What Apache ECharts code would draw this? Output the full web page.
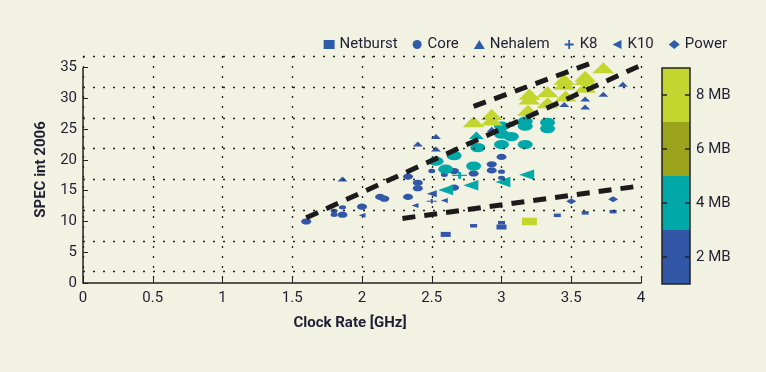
<!DOCTYPE html>
<html>
<head>
<meta charset="utf-8">
<script src="https://cdn.jsdelivr.net/npm/echarts@6/dist/echarts.min.js"></script>
<style>
html,body{margin:0;padding:0;background:#f2f2e3;}
#chart{width:766px;height:372px;}
</style>
</head>
<body>
<div id="chart"></div>
<script>
// ---- data: [clock GHz, SPECint2006, cache MB, marker size class] ----
const seriesNames = ['Netburst', 'Core', 'Nehalem', 'K8', 'K10', 'Power'];

const netburst = [
  [2.60, 7.9, 2, 2], [2.80, 9.3, 2, 1], [3.00, 9.8, 2, 1], [3.00, 9.1, 2, 2],
  [3.20, 10.0, 8, 3], [3.40, 11.0, 2, 1], [3.60, 11.4, 2, 1], [3.80, 11.6, 2, 1]
];
const core = [
  [1.60, 10.0, 2, 2], [1.80, 11.1, 2, 1], [1.80, 11.7, 2, 1], [1.86, 11.1, 2, 2],
  [1.86, 12.3, 2, 1], [2.00, 12.4, 2, 2], [2.13, 14.0, 2, 2], [2.16, 13.7, 2, 2],
  [2.33, 14.0, 2, 2], [2.33, 17.3, 2, 2], [2.40, 16.3, 2, 2], [2.40, 15.4, 2, 2],
  [2.50, 18.2, 2, 1], [2.59, 17.6, 2, 1], [2.66, 18.2, 2, 2], [2.66, 15.5, 2, 2],
  [2.80, 17.8, 2, 2], [2.93, 19.3, 2, 2], [2.93, 18.3, 2, 2], [3.00, 20.5, 2, 2],
  [3.00, 18.1, 2, 1], [3.00, 17.1, 2, 1],
  [2.53, 19.8, 4, 3], [2.60, 18.5, 4, 3], [2.66, 20.7, 4, 3], [2.80, 19.0, 4, 3],
  [2.83, 22.0, 4, 3], [3.00, 25.5, 4, 3], [3.00, 24.2, 4, 3], [3.00, 22.5, 4, 3],
  [3.07, 23.8, 4, 3], [3.17, 22.5, 4, 3], [3.17, 26.3, 4, 3], [3.17, 25.5, 4, 3],
  [3.33, 26.1, 4, 3], [3.33, 25.1, 4, 3]
];
const nehalem = [
  [1.86, 16.9, 2, 2], [2.40, 22.6, 2, 2], [2.53, 23.8, 2, 2], [2.53, 21.8, 2, 2],
  [2.93, 25.0, 2, 2], [3.06, 25.9, 2, 2], [3.45, 29.0, 2, 2], [3.60, 29.9, 2, 2],
  [3.60, 28.6, 2, 2], [3.73, 30.7, 2, 2], [3.87, 32.3, 2, 2],
  [2.82, 24.0, 4, 3],
  [2.80, 26.2, 8, 4], [2.93, 27.4, 8, 4], [2.93, 26.5, 8, 4], [3.19, 28.1, 8, 4],
  [3.20, 29.9, 8, 4], [3.20, 30.7, 8, 4], [3.33, 29.3, 8, 4], [3.33, 31.1, 8, 4],
  [3.45, 32.3, 8, 4], [3.45, 33.1, 8, 4], [3.46, 30.4, 8, 4], [3.60, 31.8, 8, 4],
  [3.60, 33.1, 8, 4], [3.60, 33.6, 8, 4], [3.73, 35.0, 8, 4]
];
const k8 = [
  [2.70, 17.5, 4, 3], [2.50, 13.3, 2, 2]
];
const k10 = [
  [2.00, 11.0, 2, 1], [2.38, 12.6, 2, 1], [2.50, 14.5, 2, 2], [2.59, 13.4, 2, 1],
  [2.60, 15.1, 4, 3], [2.78, 15.9, 4, 3], [3.01, 16.4, 4, 3], [3.18, 17.6, 4, 3]
];
const power = [
  [3.50, 13.3, 2, 2], [3.80, 13.6, 2, 2]
];

// dashed trend lines (endpoints)
const trendMain  = [[1.60, 10.6], [4.00, 35.4]];
const trendUpper = [[2.80, 28.7], [3.65, 35.8]];
const trendLower = [[2.29, 10.5], [4.00, 15.8]];

// axis ticks / gridlines
const xTicks = [0, 0.5, 1, 1.5, 2, 2.5, 3, 3.5, 4];
const yTicks = [0, 5, 10, 15, 20, 25, 30, 35];
const yGridLines = [1.85, 6.85, 11.85, 16.85, 21.85, 26.85, 31.85, 36.85];

// cache-size colour scale
const cacheLabels = ['8 MB', '6 MB', '4 MB', '2 MB'];
const cacheValues = [8, 6, 4, 2];
const cacheColors = ['#c3d62f', '#9aa31b', '#00a9a8', '#3357a7'];

// ---- rendering ----
const FONT = 'Roboto, "Liberation Sans", sans-serif';
const sizePx = [0, 7, 10, 15, 22];
function sizer(ratio) {
  return function (v) { const w = sizePx[v[3]]; return [w, w * ratio]; };
}
const PLUS = 'path://M0,4H10V6H0ZM4,0H6V10H4Z';
const LEFT_TRI = 'path://M0,5L10,0L10,10Z';

const shapes = [
  { data: netburst, symbol: 'rect', ratio: 0.5 },
  { data: core, symbol: 'circle', ratio: 0.62 },
  { data: nehalem, symbol: 'triangle', ratio: 0.5 },
  { data: k8, symbol: PLUS, ratio: 0.45 },
  { data: k10, symbol: LEFT_TRI, ratio: 0.7 },
  { data: power, symbol: 'diamond', ratio: 0.6 }
];

const series = shapes.map((s, i) => ({
  name: seriesNames[i],
  type: 'scatter',
  data: s.data,
  symbol: s.symbol,
  symbolSize: sizer(s.ratio),
  itemStyle: { color: '#2f5ca9', opacity: 1 },
  z: 3
}));

// gridlines + partial y axis line
series.push({
  type: 'scatter', data: [], silent: true, z: 1,
  markLine: {
    silent: true, symbol: 'none', animation: false,
    label: { show: false },
    lineStyle: { color: '#222', type: [2, 8], width: 1.3 },
    data: yGridLines.map(v => ({ yAxis: v }))
  }
});
series.push({
  type: 'scatter', data: [], silent: true, z: 2,
  markLine: {
    silent: true, symbol: 'none', animation: false,
    label: { show: false },
    lineStyle: { color: '#222', type: 'solid', width: 1.5 },
    data: [[{ coord: [0, yTicks[0]] }, { coord: [0, yTicks[yTicks.length - 1]] }]]
  }
});

[trendMain, trendUpper, trendLower].forEach(t => series.push({
  type: 'line', data: t, symbol: 'none', silent: true, z: 10,
  lineStyle: { color: '#1b1b1b', width: 5, type: [13, 9], cap: 'butt' }
}));

const barLeft = 662, barTop = 68, barW = 28, pieceH = 54;
const graphics = [{
  type: 'rect', z: 100,
  shape: { x: barLeft, y: barTop, width: barW, height: pieceH * cacheLabels.length },
  style: { fill: null, stroke: '#222', lineWidth: 1.5 }
}];
cacheLabels.forEach((l, i) => {
  const y = barTop + pieceH * i + pieceH / 2;
  graphics.push({ type: 'line', z: 100, shape: { x1: barLeft, y1: y, x2: barLeft + 5, y2: y }, style: { stroke: '#222', lineWidth: 1.5 } });
  graphics.push({ type: 'line', z: 100, shape: { x1: barLeft + barW - 5, y1: y, x2: barLeft + barW, y2: y }, style: { stroke: '#222', lineWidth: 1.5 } });
});

const chart = echarts.init(document.getElementById('chart'), null, { renderer: 'canvas' });
chart.setOption({
  backgroundColor: '#f2f2e3',
  animation: false,
  textStyle: { fontFamily: FONT },
  grid: { left: 83, right: 125, top: 56, bottom: 89 },
  legend: {
    data: seriesNames,
    right: 34, top: 32,
    itemWidth: 11, itemHeight: 9, itemGap: 15,
    textStyle: { fontFamily: FONT, fontSize: 15, color: '#1e1f33' },
    selectedMode: false
  },
  visualMap: {
    type: 'piecewise',
    seriesIndex: [0, 1, 2, 3, 4, 5],
    dimension: 2,
    left: barLeft, top: barTop,
    padding: 0,
    align: 'left',
    itemWidth: barW, itemHeight: pieceH, itemGap: 0, itemSymbol: 'rect',
    textGap: 6,
    selectedMode: false, hoverLink: false,
    textStyle: { fontFamily: FONT, fontSize: 15, color: '#1e1f33' },
    pieces: cacheValues.map((v, i) => ({ min: v - 1, max: v + 1, label: cacheLabels[i], color: cacheColors[i] }))
  },
  xAxis: {
    type: 'value', min: xTicks[0], max: xTicks[xTicks.length - 1], interval: 0.5,
    name: 'Clock Rate [GHz]', nameLocation: 'middle', nameGap: 33,
    nameTextStyle: { fontFamily: FONT, fontSize: 15, fontWeight: 'bold', color: '#1e1f33', padding: [0, 24, 0, 0] },
    axisLine: { lineStyle: { color: '#222', width: 1.5 } },
    axisTick: { inside: true, length: 5, lineStyle: { color: '#222' } },
    axisLabel: { fontFamily: FONT, fontSize: 15, color: '#1e1f33', margin: 8,
      formatter: v => String(v) },
    splitLine: { show: true, lineStyle: { color: '#222', type: [2, 8], width: 1.3 } }
  },
  yAxis: {
    type: 'value', min: 0, max: 36.9, interval: 5,
    name: 'SPEC int 2006', nameLocation: 'middle', nameGap: 27,
    nameTextStyle: { fontFamily: FONT, fontSize: 15, fontWeight: 'bold', color: '#1e1f33' },
    axisLine: { show: false },
    axisTick: { show: true, inside: true, length: 5, customValues: yTicks, lineStyle: { color: '#222' } },
    axisLabel: { fontFamily: FONT, fontSize: 15, color: '#1e1f33', margin: 6, customValues: yTicks },
    splitLine: { show: false }
  },
  graphic: graphics,
  series: series
});
</script>
</body>
</html>
